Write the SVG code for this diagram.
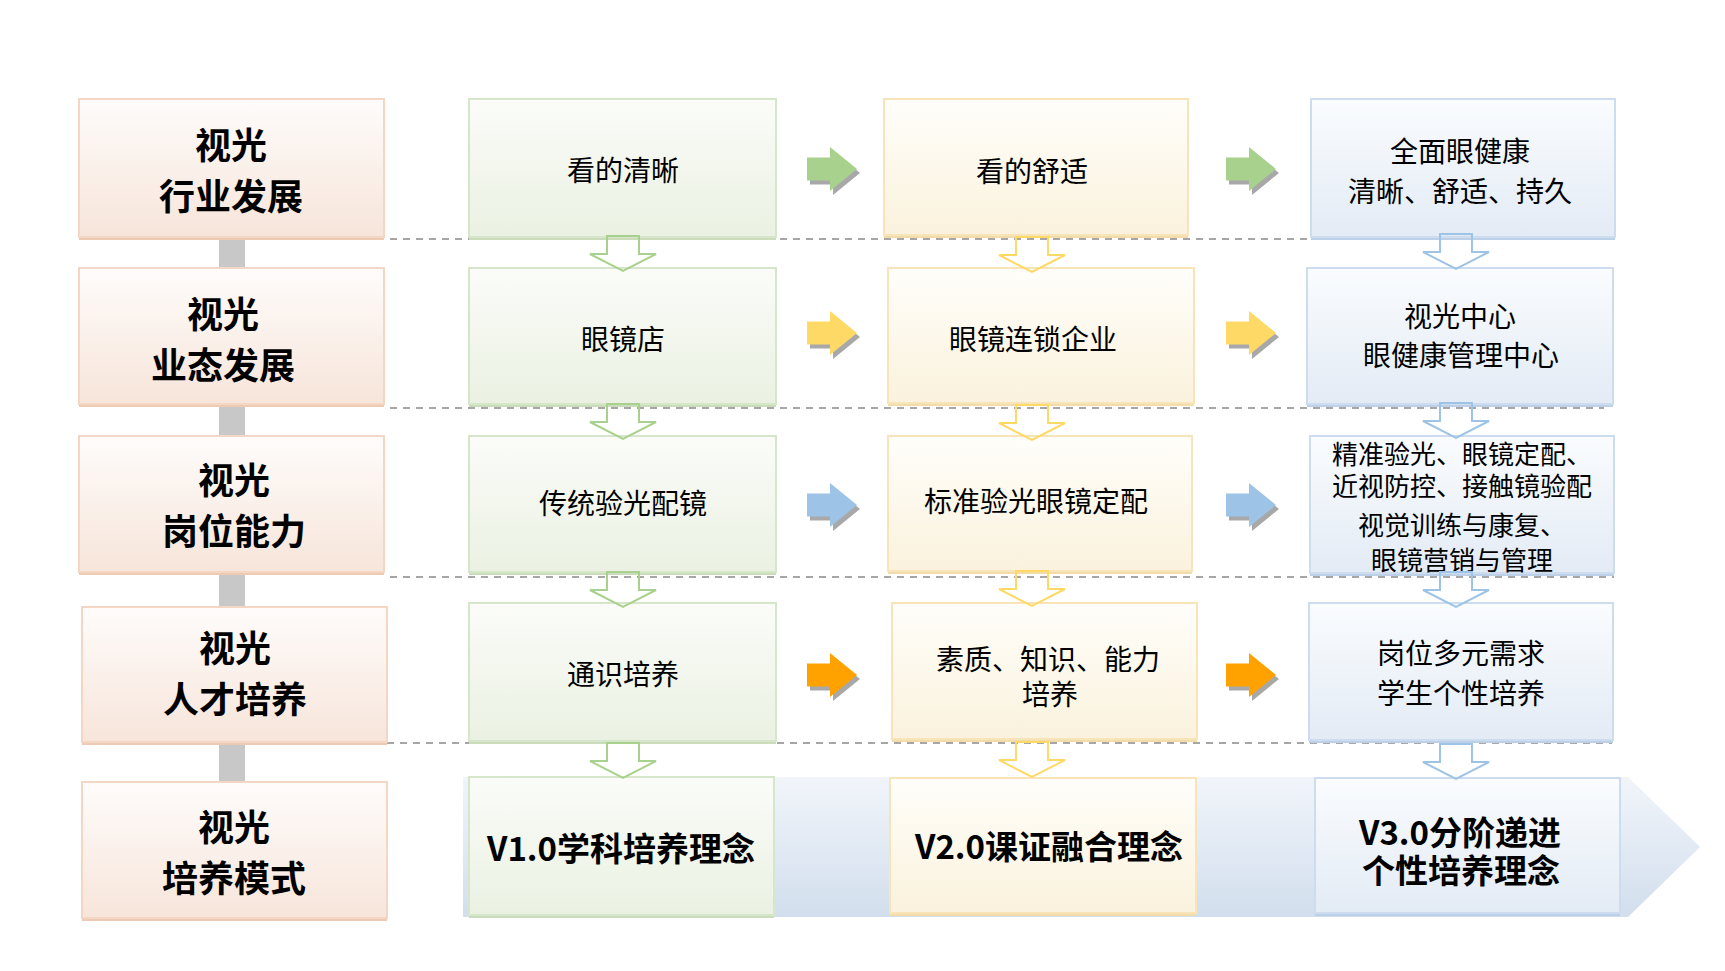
<svg xmlns="http://www.w3.org/2000/svg" width="1725" height="971" viewBox="0 0 1725 971">
<defs>
<linearGradient id="gL" x1="0" y1="0" x2="0" y2="1"><stop offset="0" stop-color="#fefcfb"/><stop offset="1" stop-color="#f7e5da"/></linearGradient>
<linearGradient id="gG" x1="0" y1="0" x2="0" y2="1"><stop offset="0" stop-color="#fbfcf9"/><stop offset="1" stop-color="#eaf1e2"/></linearGradient>
<linearGradient id="gY" x1="0" y1="0" x2="0" y2="1"><stop offset="0" stop-color="#fffefa"/><stop offset="1" stop-color="#faf2dd"/></linearGradient>
<linearGradient id="gB" x1="0" y1="0" x2="0" y2="1"><stop offset="0" stop-color="#fafcfe"/><stop offset="1" stop-color="#e3ebf5"/></linearGradient>
<linearGradient id="gBand" x1="0" y1="0" x2="0" y2="1"><stop offset="0" stop-color="#f1f5fa"/><stop offset="1" stop-color="#d2deed"/></linearGradient>
<path id="ra" d="M0,-11.5 H23 V-22 L50,0 L23,22 V11.5 H0 Z"/>
<path id="da" d="M-16,0 V18 H-33 L0,35 L33,18 H16 V0 Z"/>
<style>
.bL{fill:url(#gL);stroke:#f3d6c4;stroke-width:2}
.bG{fill:url(#gG);stroke:#d6e6ca;stroke-width:2}
.bY{fill:url(#gY);stroke:#f8e4b8;stroke-width:2}
.bB{fill:url(#gB);stroke:#cddcee;stroke-width:2}
.sL{fill:#eccab4}
.sG{fill:#cadcba}
.sY{fill:#f2dcaa}
.sB{fill:#bcd0e7}
.lab{font-family:"Noto Sans CJK SC","Microsoft YaHei",sans-serif;font-size:36px;font-weight:700;fill:#000;text-anchor:middle}
.t{font-family:"Noto Sans CJK SC","Microsoft YaHei",sans-serif;font-size:28px;fill:#000;text-anchor:middle}
.ts{font-family:"Noto Sans CJK SC","Microsoft YaHei",sans-serif;font-size:26px;fill:#000;text-anchor:middle}
.tb{font-family:"Noto Sans CJK SC","Microsoft YaHei",sans-serif;font-size:33px;font-weight:700;fill:#000;text-anchor:middle}
.dash{stroke:#a6a6a6;stroke-width:2;stroke-dasharray:7 6;fill:none}
.conn{fill:#c8c8c8}
.shd{fill:#a8a8a8}
.dG{fill:none;stroke:#a9d18e;stroke-width:2}
.dY{fill:none;stroke:#ffd966;stroke-width:2}
.dB{fill:none;stroke:#9dc3e6;stroke-width:2}
</style>
</defs>
<rect width="1725" height="971" fill="#fff"/>

<g id="band">
<path d="M463,777 H1628 L1700,847 L1628,917 H463 Z" fill="url(#gBand)"/>
</g>

<g id="connectors">
<rect class="conn" x="219" y="237" width="26" height="31"/>
<rect class="conn" x="219" y="404" width="26" height="32"/>
<rect class="conn" x="219" y="572" width="26" height="35"/>
<rect class="conn" x="219" y="742" width="26" height="40"/>
<path class="dash" d="M390,239 H1604"/>
<path class="dash" d="M390,408 H1604"/>
<path class="dash" d="M390,577 H1614"/>
<path class="dash" d="M387,743 H1612"/>
<use href="#ra" class="shd" transform="translate(810,173)"/>
<use href="#ra" fill="#a9d18e" transform="translate(807,169)"/>
<use href="#ra" class="shd" transform="translate(1229,173)"/>
<use href="#ra" fill="#a9d18e" transform="translate(1226,169)"/>
<use href="#ra" class="shd" transform="translate(810,337)"/>
<use href="#ra" fill="#ffd966" transform="translate(807,333)"/>
<use href="#ra" class="shd" transform="translate(1229,337)"/>
<use href="#ra" fill="#ffd966" transform="translate(1226,333)"/>
<use href="#ra" class="shd" transform="translate(810,509)"/>
<use href="#ra" fill="#9dc3e6" transform="translate(807,505)"/>
<use href="#ra" class="shd" transform="translate(1229,509)"/>
<use href="#ra" fill="#9dc3e6" transform="translate(1226,505)"/>
<use href="#ra" class="shd" transform="translate(810,679)"/>
<use href="#ra" fill="#ffa200" transform="translate(807,675)"/>
<use href="#ra" class="shd" transform="translate(1229,679)"/>
<use href="#ra" fill="#ffa200" transform="translate(1226,675)"/>
</g>

<g id="n-l1"><rect class="sL" x="79" y="236" width="305" height="4"/><rect class="bL" x="79" y="99" width="305" height="138"/><text class="lab" x="231" y="159">视光</text><text class="lab" x="231" y="210">行业发展</text></g>
<g id="n-l2"><rect class="sL" x="79" y="403" width="305" height="4"/><rect class="bL" x="79" y="268" width="305" height="136"/><text class="lab" x="223" y="328">视光</text><text class="lab" x="223" y="379">业态发展</text></g>
<g id="n-l3"><rect class="sL" x="79" y="571" width="305" height="4"/><rect class="bL" x="79" y="436" width="305" height="136"/><text class="lab" x="234" y="494">视光</text><text class="lab" x="234" y="545">岗位能力</text></g>
<g id="n-l4"><rect class="sL" x="82" y="741" width="305" height="4"/><rect class="bL" x="82" y="607" width="305" height="135"/><text class="lab" x="235" y="662">视光</text><text class="lab" x="235" y="713">人才培养</text></g>
<g id="n-l5"><rect class="sL" x="82" y="917" width="305" height="4"/><rect class="bL" x="82" y="782" width="305" height="136"/><text class="lab" x="234" y="841">视光</text><text class="lab" x="234" y="892">培养模式</text></g>

<g id="n-11"><rect class="sG" x="469" y="236" width="307" height="4"/><rect class="bG" x="469" y="99" width="307" height="138"/><text class="t" x="623" y="181">看的清晰</text></g>
<g id="n-12"><rect class="sY" x="884" y="234" width="304" height="4"/><rect class="bY" x="884" y="99" width="304" height="136"/><text class="t" x="1032" y="182">看的舒适</text></g>
<g id="n-13"><rect class="sB" x="1311" y="236" width="304" height="4"/><rect class="bB" x="1311" y="99" width="304" height="138"/><text class="t" x="1460" y="162">全面眼健康</text><text class="t" x="1460" y="202">清晰、舒适、持久</text></g>

<g id="n-21"><rect class="sG" x="469" y="403" width="307" height="4"/><rect class="bG" x="469" y="268" width="307" height="136"/><text class="t" x="623" y="350">眼镜店</text></g>
<g id="n-22"><rect class="sY" x="888" y="402" width="306" height="4"/><rect class="bY" x="888" y="268" width="306" height="135"/><text class="t" x="1033" y="350">眼镜连锁企业</text></g>
<g id="n-23"><rect class="sB" x="1307" y="403" width="306" height="4"/><rect class="bB" x="1307" y="268" width="306" height="136"/><text class="t" x="1460" y="327">视光中心</text><text class="t" x="1461" y="366">眼健康管理中心</text></g>

<g id="n-31"><rect class="sG" x="469" y="571" width="307" height="4"/><rect class="bG" x="469" y="436" width="307" height="136"/><text class="t" x="623" y="514">传统验光配镜</text></g>
<g id="n-32"><rect class="sY" x="888" y="570" width="304" height="4"/><rect class="bY" x="888" y="436" width="304" height="135"/><text class="t" x="1036" y="512">标准验光眼镜定配</text></g>
<g id="n-33"><rect class="sB" x="1310" y="572" width="304" height="4"/><rect class="bB" x="1310" y="436" width="304" height="137"/><text class="ts" x="1462" y="464">精准验光、眼镜定配、</text><text class="ts" x="1462" y="496">近视防控、接触镜验配</text><text class="ts" x="1462" y="535">视觉训练与康复、</text><text class="ts" x="1462" y="570">眼镜营销与管理</text></g>

<g id="n-41"><rect class="sG" x="469" y="740" width="307" height="4"/><rect class="bG" x="469" y="603" width="307" height="138"/><text class="t" x="623" y="685">通识培养</text></g>
<g id="n-42"><rect class="sY" x="892" y="738" width="305" height="4"/><rect class="bY" x="892" y="603" width="305" height="136"/><text class="t" x="1048" y="670">素质、知识、能力</text><text class="t" x="1050" y="705">培养</text></g>
<g id="n-43"><rect class="sB" x="1309" y="739" width="304" height="4"/><rect class="bB" x="1309" y="603" width="304" height="137"/><text class="t" x="1461" y="664">岗位多元需求</text><text class="t" x="1461" y="704">学生个性培养</text></g>

<g id="n-51"><rect class="sG" x="469" y="914" width="305" height="4"/><rect class="bG" x="469" y="777" width="305" height="138"/><text class="tb" x="621" y="861">V1.0学科培养理念</text></g>
<g id="n-52"><rect class="sY" x="890" y="912" width="306" height="4"/><rect class="bY" x="890" y="778" width="306" height="135"/><text class="tb" x="1049" y="859">V2.0课证融合理念</text></g>
<g id="n-53"><rect class="sB" x="1315" y="912" width="305" height="4"/><rect class="bB" x="1315" y="778" width="305" height="135"/><text class="tb" x="1460" y="845">V3.0分阶递进</text><text class="tb" x="1461" y="883">个性培养理念</text></g>

<g id="down-arrows">
<use href="#da" class="dG" transform="translate(623,236)"/>
<use href="#da" class="dG" transform="translate(623,404)"/>
<use href="#da" class="dG" transform="translate(623,572)"/>
<use href="#da" class="dG" transform="translate(623,743)"/>
<use href="#da" class="dY" transform="translate(1032,237)"/>
<use href="#da" class="dY" transform="translate(1032,405)"/>
<use href="#da" class="dY" transform="translate(1032,571)"/>
<use href="#da" class="dY" transform="translate(1032,742)"/>
<use href="#da" class="dB" transform="translate(1456,234)"/>
<use href="#da" class="dB" transform="translate(1456,403)"/>
<use href="#da" class="dB" transform="translate(1456,572)"/>
<use href="#da" class="dB" transform="translate(1456,744)"/>
</g>
</svg>
